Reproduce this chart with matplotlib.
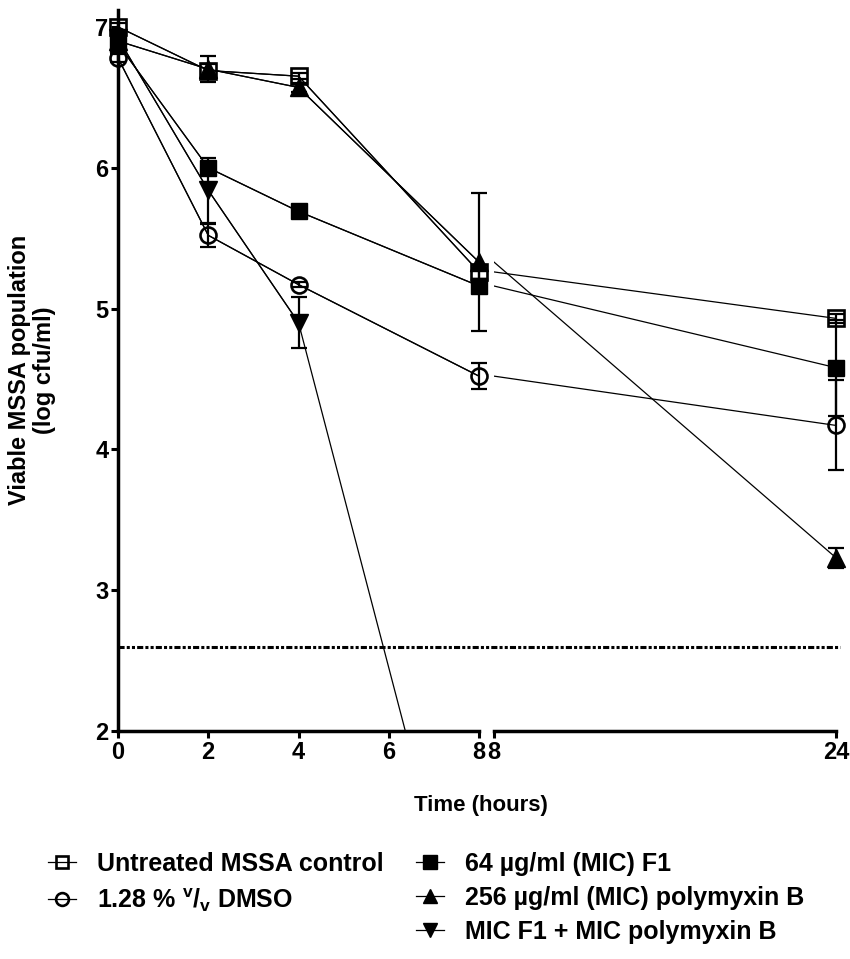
import numpy as np
import matplotlib
matplotlib.use("Agg")
import matplotlib.pyplot as plt

plt.rcParams['font.family'] = ['Liberation Sans', 'DejaVu Sans']
plt.rcParams['font.weight'] = 'bold'
plt.rcParams['mathtext.fontset'] = 'custom'
plt.rcParams['mathtext.rm'] = 'Liberation Sans:bold'
plt.rcParams['mathtext.bf'] = 'Liberation Sans:bold'

# sampling times, split around the axis break
hours_early = [0, 2, 4, 8]
hours_late = [8, 24]

# log cfu/ml means and SDs (0, 2, 4, 8, 24 h)
untreated = [7.00, 6.69, 6.65, 5.26, 4.93]
untreated_sd = [0.03, 0.05, 0.02, 0.05, 0.03]
dmso = [6.78, 5.52, 5.17, 4.52, 4.17]
dmso_sd = [0.03, 0.08, 0.02, 0.09, 0.32]
f1 = [6.88, 6.00, 5.69, 5.16, 4.58]
f1_sd = [0.05, 0.04, 0.03, 0.05, 0.34]
polymyxin = [6.90, 6.70, 6.57, 5.33, 3.23]
polymyxin_sd = [0.04, 0.09, 0.03, 0.49, 0.07]
combo = [6.92, 5.84, 4.90, 0.0]
combo_sd = [0.03, 0.23, 0.18, 0.0]

detection_limit = 2.6

labels = ['Untreated MSSA control', '1.28 % $^{\\mathrm{v}}$/$_{\\mathrm{v}}$ DMSO',
          '64 µg/ml (MIC) F1', '256 µg/ml (MIC) polymyxin B', 'MIC F1 + MIC polymyxin B']

W, H = 850, 959
fig = plt.figure(figsize=(W / 100, H / 100), dpi=100)
ax1 = fig.add_axes([118 / W, 228 / H, 361 / W, 721 / H])
ax2 = fig.add_axes([494 / W, 228 / H, 342 / W, 721 / H], sharey=ax1)
ax1.patch.set_visible(False)
ax2.patch.set_visible(False)

ymin, ymax = 2, 7.12
ax1.set_xlim(0, 8)
ax2.set_xlim(8, 24)
ax1.set_ylim(ymin, ymax)

styles = [
    (untreated, untreated_sd, dict(marker='s', mfc='none', ms=11, mew=1.9)),
    (dmso, dmso_sd, dict(marker='o', mfc='none', ms=11.5, mew=1.9)),
    (f1, f1_sd, dict(marker='s', mfc='black', ms=12, mew=1)),
    (polymyxin, polymyxin_sd, dict(marker='^', mfc='black', ms=13, mew=1)),
    (combo, combo_sd, dict(marker='v', mfc='black', ms=13, mew=1)),
]

handles = []
for (vals, sd, mk), lab in zip(styles, labels):
    early = np.array(vals[:4], dtype=float)
    early_sd = np.array(sd[:4], dtype=float)
    # connecting line, clipped to the plot area
    ax1.plot(hours_early, early, color='black', lw=0.9, zorder=3)
    shown = np.ma.masked_less(early, ymin)
    ax1.errorbar(hours_early, shown, yerr=early_sd, fmt='none', ecolor='black',
                 elinewidth=1.6, capsize=6, capthick=1.6, clip_on=False, zorder=2)
    h, = ax1.plot(hours_early, shown, ls='-', lw=0.9, color='black', mec='black',
                  clip_on=False, zorder=4, label=lab, **mk)
    handles.append(h)
    if len(vals) > 4:
        late = [vals[3], vals[4]]
        ax2.plot(hours_late, late, color='black', lw=0.9, zorder=3)
        ax2.errorbar(hours_late[1:], late[1:], yerr=sd[4:], fmt='none', ecolor='black',
                     elinewidth=1.6, capsize=6, capthick=1.6, clip_on=False, zorder=2)
        ax2.plot(hours_late[1:], late[1:], ls='none', color='black', mec='black',
                 clip_on=False, zorder=4, **mk)

# limit of detection, running across the break
ax1.axhline(detection_limit, xmin=0, xmax=(840 - 118) / 361, color='black', lw=2.2,
            ls=(0, (2, 0.7, 1, 0.7, 1, 0.7)), clip_on=False, zorder=1)

for ax in (ax1, ax2):
    for s in ('top', 'right'):
        ax.spines[s].set_visible(False)
    ax.spines['bottom'].set_linewidth(2.5)
    ax.tick_params(axis='both', direction='out', length=5, width=2.2,
                   labelsize=17, pad=2)
ax1.spines['left'].set_linewidth(2.5)
ax2.spines['left'].set_visible(False)
ax2.tick_params(axis='y', left=False, labelleft=False)

ax1.set_xticks([0, 2, 4, 6, 8])
ax2.set_xticks([8, 24])
ax1.set_yticks([2, 3, 4, 5, 6, 7])

fig.text(481 / W, 1 - 806 / H, 'Time (hours)', ha='center', va='center', fontsize=16)
fig.text(32 / W, 1 - 370 / H, 'Viable MSSA population\n(log cfu/ml)', ha='center',
         va='center', rotation=90, fontsize=17, linespacing=1.1)

leg_kw = dict(frameon=False, fontsize=18, handlelength=1.1, handletextpad=0.85,
              labelspacing=0.4, borderpad=0, borderaxespad=0, markerscale=0.8,
              loc='upper left')
fig.legend(handles=handles[:2], bbox_to_anchor=(48 / W, 1 - 852 / H), **leg_kw)
fig.legend(handles=handles[2:], bbox_to_anchor=(416 / W, 1 - 852 / H), **leg_kw)

fig.savefig('out.png', dpi=100)
